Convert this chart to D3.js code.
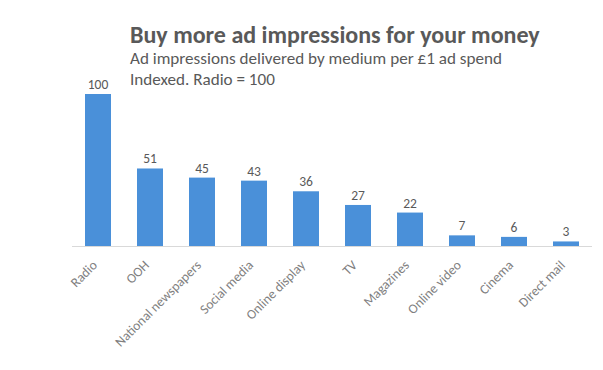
<!DOCTYPE html>
<html><head><meta charset="utf-8">
<script src="https://cdn.jsdelivr.net/npm/d3@7"></script>
<style>body{margin:0;background:#fff;} svg{display:block;}</style>
</head><body>
<svg id="c" width="603" height="370"></svg>
<script>
const categories = ["Radio","OOH","National newspapers","Social media","Online display","TV","Magazines","Online video","Cinema","Direct mail"];
const values = [100,51,45,43,36,27,22,7,6,3];
const title = "Buy more ad impressions for your money";
const subtitle1 = "Ad impressions delivered by medium per £1 ad spend";
const subtitle2 = "Indexed. Radio = 100";

const svg = d3.select("#c");
const font = "Carlito, Calibri, 'Open Sans', sans-serif";
const x = d3.scaleBand().domain(categories).range([72, 592]).paddingInner(0.5).paddingOuter(0.25);
const y = d3.scaleLinear().domain([0, 100]).range([246, 94]);

function fit(sel, w){ const n = sel.node(); const L = n.getComputedTextLength(); if (L>0){ const fs = parseFloat(sel.attr("font-size")); sel.attr("font-size", fs*w/L);} }

const t = svg.append("text").attr("x",130).attr("y",43).attr("font-family",font).attr("font-weight","bold").attr("font-size",22).attr("fill","#595959").text(title);
fit(t, 410);
const s1 = svg.append("text").attr("x",130).attr("y",64).attr("font-family",font).attr("font-size",15).attr("fill","#595959").text(subtitle1);
fit(s1, 372);
const s2 = svg.append("text").attr("x",130).attr("y",85).attr("font-family",font).attr("font-size",15).attr("fill","#595959").text(subtitle2);
s2.attr("font-size", s1.attr("font-size"));

svg.append("g").selectAll("rect").data(values).join("rect")
  .attr("x",(d,i)=>x(categories[i])).attr("width",x.bandwidth())
  .attr("y",d=>y(d)).attr("height",d=>y(0)-y(d)).attr("fill","#4a90d9");

svg.append("g").selectAll("text").data(values).join("text")
  .attr("x",(d,i)=>x(categories[i])+x.bandwidth()/2).attr("y",d=>y(d)-5)
  .attr("text-anchor","middle").attr("font-family",font).attr("font-size",13.5).attr("fill","#595959").text(d=>d);

const ax = svg.append("g").attr("transform","translate(0,246)").call(d3.axisBottom(x).tickSize(0).tickPadding(0));
ax.select(".domain").attr("stroke","#d9d9d9").attr("stroke-width",1.2).attr("d","M72,0.5H592");
ax.selectAll(".tick text").attr("font-family",font).attr("font-size",13.5).attr("fill","#7f7f7f")
  .attr("text-anchor","end").attr("dy",null).attr("y",0)
  .attr("transform","translate(0,20) rotate(-45)");
</script>
</body></html>
